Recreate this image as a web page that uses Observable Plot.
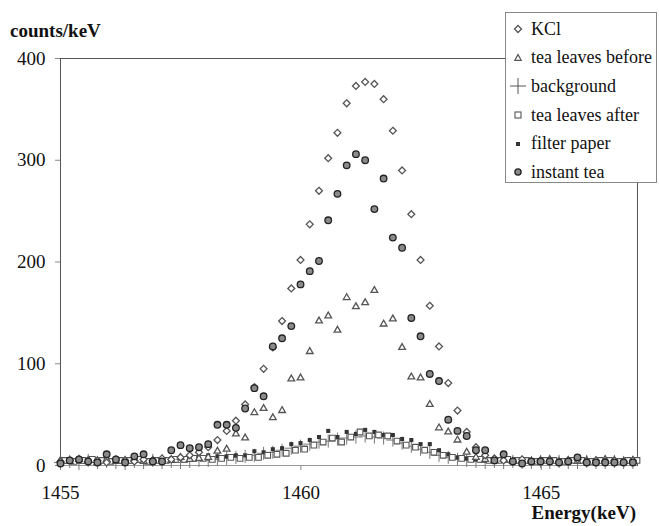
<!DOCTYPE html>
<html><head><meta charset="utf-8">
<script src="https://cdn.jsdelivr.net/npm/d3@7"></script>
<script src="https://cdn.jsdelivr.net/npm/@observablehq/plot@0.6"></script>
<style>
body{margin:0;background:#fff;}
#wrap{position:relative;width:659px;height:526px;font-family:"Liberation Serif",serif;color:#111;overflow:hidden;}
#wrap svg{position:absolute;left:0;top:0;}
.lab{position:absolute;font-weight:bold;font-size:19px;line-height:20px;white-space:nowrap;}
#legend{position:absolute;left:505px;top:12px;width:152px;height:171px;border:1px solid #888;background:#fff;box-sizing:border-box;padding-top:2px;}
#legend .row{height:28.6px;display:flex;align-items:center;font-size:18px;white-space:nowrap;}
#legend svg{position:static;width:22px;height:18px;margin-left:1px;margin-right:2px;flex:none;}
</style></head><body>
<div id="wrap"></div>
<script>
// Energy bins (keV)
const binStart = 1455;
const binWidth = 0.192;
const afterShift = 0.086; // "tea leaves after" spectrum sits slightly right

// counts/keV for each spectrum, one value per bin (63 bins)
const kcl = [4,5,6,4,5,3,6,5,4,6,5,7,6,8,
  10,13,18,25,34,44,60,77,95,116,142,174,202,
  237,270,302,327,356,373,377,375,360,329,290,247,
  202,157,117,81,54,33,18,10,7,
  5,4,6,4,5,4,3,5,6,4,5,4,5,4,5];
const teaBefore = [5,4,6,5,3,6,4,5,7,4,5,6,5,8,6,7,8,
  14,16,31,27,52,56,47,54,85,86,112,142,147,
  133,165,156,160,172,139,144,116,87,86,60,37,
  33,25,13,8,6,5,6,4,
  5,4,5,6,4,5,4,5,4,6,5,4,5];
const background = [3,4,2,5,3,4,3,2,4,3,5,3,4,3,4,5,
  5,6,7,8,9,10,12,13,15,17,19,21,23,24,
  26,27,28,29,28,27,25,22,19,16,13,10,8,6,5,
  4,3,4,3,4,3,3,4,3,4,3,3,4,3,3,4,3,3];
const teaAfter = [5,4,5,6,5,4,5,5,6,4,5,5,6,
  6,7,7,6,7,8,7,8,8,10,11,12,15,16,
  20,23,27,23,28,33,29,30,29,24,20,18,15,13,10,8,
  7,6,6,5,5,6,5,5,4,5,5,4,5,5,4,5,5,4,5,5];
const filterPaper = [5,6,5,4,6,5,5,6,4,5,6,5,7,7,
  9,9,10,9,9,10,10,14,13,16,17,21,22,25,28,
  34,28,33,31,35,33,30,30,26,25,21,21,15,11,8,
  7,6,5,6,5,4,5,5,4,5,4,5,5,4,5,4,5,4,5];
const instantTea = [2,5,6,4,3,11,6,3,9,11,4,4,15,
  20,17,18,21,40,40,37,56,76,68,117,125,137,
  178,191,201,241,267,295,306,300,252,282,224,214,145,
  127,90,83,45,34,29,15,15,5,11,4,2,
  4,4,4,3,4,8,3,3,3,3,3,3];

const xTicks = [1455, 1460, 1465];
const yTicks = [0, 100, 200, 300, 400];
const seriesNames = ["KCl", "tea leaves before", "background", "tea leaves after", "filter paper", "instant tea"];

const energy = kcl.map((_, i) => binStart + binWidth * i);
const energyAfter = energy.map(e => e + afterShift);

const chart = Plot.plot({
  width: 659, height: 526,
  marginLeft: 60, marginRight: 22, marginTop: 58, marginBottom: 61,
  style: {fontFamily: "Liberation Serif", fontSize: "19px", color: "#111", background: "white"},
  x: {domain: [1455, 1467]},
  y: {domain: [0, 400]},
  marks: [
    Plot.frame({stroke: "#555"}),
    Plot.ruleY([0], {stroke: "#999"}),
    Plot.axisX(xTicks, {tickSize: 5, tickPadding: 15, stroke: "#888", fill: "#111", tickFormat: d3.format("d"), label: null, fontSize: 19}),
    Plot.axisY(yTicks, {tickSize: 5, tickPadding: 10, stroke: "#888", fill: "#111", tickFormat: d3.format("d"), label: null, fontSize: 19}),
    Plot.dot(background, {x: energy, y: d => d, symbol: "plus", r: 4.3, stroke: "#777", strokeWidth: 1}),
    Plot.dot(filterPaper, {x: energy, y: d => d, symbol: "square", r: 2.3, fill: "#333", stroke: "none"}),
    Plot.dot(teaAfter, {x: energyAfter, y: d => d, symbol: "square2", r: 3.6, fill: "white", stroke: "#555", strokeWidth: 1.1}),
    Plot.dot(teaBefore, {x: energy, y: d => d, symbol: "triangle2", r: 3.2, fill: "white", stroke: "#555", strokeWidth: 1.3}),
    Plot.dot(kcl, {x: energy, y: d => d, symbol: "diamond2", r: 3.1, fill: "white", stroke: "#555", strokeWidth: 1.3}),
    Plot.dot(instantTea, {x: energy, y: d => d, symbol: "circle", r: 3.3, fill: "#8a8a8a", stroke: "#222", strokeWidth: 1.3})
  ]
});

const wrap = document.getElementById("wrap");
wrap.appendChild(chart);

const yLab = document.createElement("div");
yLab.className = "lab"; yLab.textContent = "counts/keV";
yLab.style.left = "10px"; yLab.style.top = "21px";
wrap.appendChild(yLab);

const xLab = document.createElement("div");
xLab.className = "lab"; xLab.textContent = "Energy(keV)";
xLab.style.right = "23px"; xLab.style.top = "503px";
wrap.appendChild(xLab);

// legend
const legendSymbols = [
  '<polygon points="11,5.5 14.5,9 11,12.5 7.5,9" fill="white" stroke="#555" stroke-width="1.3"/>',
  '<polygon points="11,5.6 14.2,11.3 7.8,11.3" fill="white" stroke="#555" stroke-width="1.2"/>',
  '<path d="M3,9H19M11,1V17" stroke="#555" stroke-width="1"/>',
  '<rect x="8" y="6" width="6" height="6" fill="white" stroke="#555" stroke-width="1.1"/>',
  '<rect x="9" y="7" width="4" height="4" fill="#333"/>',
  '<circle cx="11" cy="9" r="3.1" fill="#8a8a8a" stroke="#222" stroke-width="1.3"/>'
];
const legend = document.createElement("div");
legend.id = "legend";
seriesNames.forEach((name, i) => {
  const row = document.createElement("div");
  row.className = "row";
  row.innerHTML = '<svg viewBox="0 0 22 18">' + legendSymbols[i] + '</svg><span>' + name + '</span>';
  legend.appendChild(row);
});
wrap.appendChild(legend);
</script>
</body></html>
